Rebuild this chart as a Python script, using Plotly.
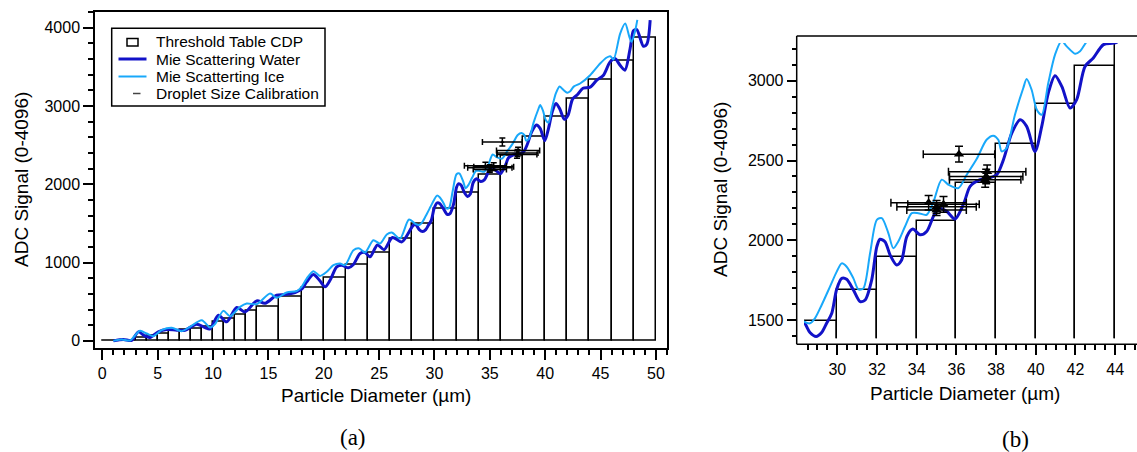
import numpy as np
import plotly.graph_objects as go

# ---------------- data ----------------
# CDP threshold table: bin edges (µm) and ADC threshold of each bin
bin_edges = [0, 3, 4, 5, 6, 7, 8, 9, 10, 11, 12, 13, 14, 16, 18, 20, 22, 24, 26, 28,
             30, 32, 34, 36, 38, 40, 42, 44, 46, 48, 50]
bin_adc = [5, 43, 60, 86, 124, 137, 158, 179, 239, 286, 328, 379, 435, 558, 682, 810,
           968, 1124, 1303, 1494, 1688, 1898, 2122, 2359, 2606, 2857, 3090, 3333, 3576, 3878]

# Mie scattering response, water
water_d = [1.0, 1.9, 2.65, 3.25, 3.86, 4.3, 5.06, 5.81, 6.72, 7.47, 8.52, 9.27, 9.73, 10.48,
           11.23, 12.14, 12.89, 13.95, 14.7, 15.75, 16.5, 17.41, 18.0, 18.46, 19.06, 19.61,
           20.12, 20.57, 21.17, 21.62, 22.23, 22.68, 23.28, 23.73, 24.18, 24.85, 25.45, 26.2,
           27.05, 28.1, 28.32, 28.62, 28.93, 29.21, 29.46, 29.72, 29.97, 30.22, 30.47, 30.81,
           31.15, 31.4, 31.73, 31.99, 32.15, 32.4, 32.66, 32.99, 33.24, 33.5, 33.8, 34.17,
           34.5, 34.84, 35.09, 35.51, 35.93, 36.27, 36.44, 36.69, 37.19, 37.61, 38.03, 38.37,
           38.79, 39.21, 39.54, 39.96, 40.3, 40.63, 40.97, 41.31, 41.73, 42.06, 42.48, 42.9,
           43.41, 44.06, 44.66, 45.26, 45.86, 46.3, 46.76, 47.2, 47.67, 47.97, 48.27, 48.87,
           49.18, 49.48]
water_adc = [0, 18, 5, 115, 60, 43, 115, 145, 136, 136, 213, 170, 153, 328,
             243, 426, 370, 511, 480, 584, 592, 618, 660, 754, 848, 775,
             690, 775, 945, 967, 933, 975, 1116, 1129, 1073, 1225, 1165, 1320,
             1264, 1478, 1483, 1421, 1396, 1421, 1479, 1542, 1694, 1761, 1755, 1688,
             1615, 1625, 1750, 1960, 2006, 1991, 1907, 1845, 1876, 2023, 2070, 2034,
             2055, 2150, 2202, 2181, 2133, 2202, 2254, 2338, 2380, 2390, 2411, 2505,
             2672, 2756, 2714, 2557, 2714, 2923, 3032, 2965, 2829, 2882, 3090, 3143,
             3227, 3240, 3329, 3393, 3563, 3606, 3520, 3457, 3734, 3960, 3975, 3763,
             3790, 4096]

# Mie scattering response, ice
ice_d = [1.0, 1.75, 2.5, 3.4, 4.0, 4.6, 5.36, 6.27, 7.17, 7.92, 8.98, 9.73, 10.18, 10.93,
         11.53, 12.44, 13.04, 13.95, 15.15, 15.75, 16.65, 17.56, 18.0, 18.46, 19.06, 19.66,
         20.27, 20.87, 21.47, 21.92, 22.68, 23.22, 23.73, 24.48, 25.08, 25.69, 26.14, 26.89,
         27.7, 28.32, 28.62, 28.87, 29.21, 29.63, 29.97, 30.22, 30.47, 30.81, 31.06, 31.31,
         31.65, 31.99, 32.24, 32.57, 32.82, 33.07, 33.41, 33.75, 34.08, 34.5, 34.84, 35.26,
         35.6, 36.1, 36.52, 37.02, 37.52, 37.86, 38.11, 38.28, 38.53, 38.95, 39.37, 39.54,
         39.79, 40.05, 40.3, 40.63, 40.97, 41.3, 41.56, 41.98, 42.23, 42.6, 43.15, 44.06,
         44.96, 45.56, 45.87, 46.17, 46.77, 47.22, 47.6, 47.8, 48.1, 48.32]
ice_adc = [0, 18, 5, 128, 94, 60, 136, 166, 124, 179, 264, 170, 213, 383,
           315, 434, 477, 469, 605, 550, 618, 635, 690, 796, 890, 830,
           882, 967, 988, 967, 1158, 1180, 1129, 1286, 1243, 1358, 1384, 1307,
           1550, 1490, 1479, 1510, 1594, 1709, 1803, 1855, 1834, 1761, 1692, 1698,
           1918, 2128, 2139, 2045, 1950, 1992, 2086, 2170, 2170, 2160, 2240, 2380,
           2348, 2327, 2411, 2509, 2630, 2656, 2630, 2557, 2578, 2787, 2955, 3011,
           2944, 2819, 2787, 2986, 3164, 3250, 3216, 3170, 3185, 3250, 3287, 3393,
           3542, 3619, 3636, 3593, 3925, 4053, 3883, 3819, 3946, 4100]

# Droplet size calibration points (diameter, ADC, errors)
cal_d = [34.6, 35.35, 35.0, 35.0, 36.13, 37.55, 37.5, 37.45]
cal_adc = [2235, 2225, 2210, 2190, 2540, 2430, 2400, 2380]
cal_d_err = [1.9, 1.8, 2.0, 1.5, 1.8, 1.95, 1.85, 1.8]
cal_adc_err = [45, 50, 40, 35, 50, 42, 45, 48]

legend_labels = ["Threshold Table CDP", "Mie Scattering Water",
                 "Mie Scatterting Ice", "Droplet Size Calibration"]

# ---------------- figure ----------------
W, H = 1137, 452
edges = np.array(bin_edges, dtype=float)
bar_x = (edges[:-1] + edges[1:]) / 2
bar_w = np.diff(edges)

WATER = "rgb(18,18,200)"
ICE = "rgb(24,168,250)"
FONT = "Liberation Sans, Arial, sans-serif"

fig = go.Figure()

for xa, ya in [("x", "y"), ("x2", "y2")]:
    fig.add_trace(go.Bar(x=bar_x, y=bin_adc, width=bar_w, name=legend_labels[0],
                         marker=dict(color="white", line=dict(color="black", width=1.5)),
                         xaxis=xa, yaxis=ya, showlegend=False))
    fig.add_trace(go.Scatter(x=water_d, y=water_adc, mode="lines", name=legend_labels[1],
                             line=dict(color=WATER, width=3, shape="spline", smoothing=0.8),
                             xaxis=xa, yaxis=ya, showlegend=False))
    fig.add_trace(go.Scatter(x=ice_d, y=ice_adc, mode="lines", name=legend_labels[2],
                             line=dict(color=ICE, width=2, shape="spline", smoothing=0.8),
                             xaxis=xa, yaxis=ya, showlegend=False))

fig.add_trace(go.Scatter(x=cal_d, y=cal_adc, mode="markers", name=legend_labels[3],
                         marker=dict(symbol="triangle-up", size=4, color="black"),
                         error_x=dict(type="data", array=cal_d_err, color="black", thickness=1.5, width=3),
                         error_y=dict(type="data", array=cal_adc_err, color="black", thickness=1.5, width=3),
                         xaxis="x", yaxis="y", showlegend=False))
fig.add_trace(go.Scatter(x=cal_d, y=cal_adc, mode="markers", name=legend_labels[3],
                         marker=dict(symbol="triangle-up", size=9, color="black"),
                         error_x=dict(type="data", array=cal_d_err, color="black", thickness=1.5, width=4),
                         error_y=dict(type="data", array=cal_adc_err, color="black", thickness=1.5, width=4),
                         xaxis="x2", yaxis="y2", showlegend=False))

def px(x):
    return x / W

def py(y):
    return (H - y) / H

tickfont = dict(family=FONT, size=16, color="black")
common = dict(ticks="outside", ticklen=10, tickwidth=1.5, tickcolor="black",
              tickfont=tickfont, showgrid=False, zeroline=False,
              linecolor="black", linewidth=1.5)

fig.update_layout(
    width=W, height=H, margin=dict(l=0, r=0, t=0, b=0),
    paper_bgcolor="white", plot_bgcolor="white",
    barmode="overlay", bargap=0, showlegend=False,
    font=dict(family=FONT, color="black"),
    xaxis=dict(domain=[px(95), px(667)], range=[-0.66, 51.0], anchor="y",
               dtick=5, tick0=0, showline=True, mirror=True,
               minor=dict(dtick=1, ticklen=5, tickwidth=1.5, tickcolor="black", ticks="outside"),
               **common),
    yaxis=dict(domain=[py(348.3), py(11.7)], range=[-95, 4204], anchor="x",
               dtick=1000, tick0=0, showline=True, mirror=True,
               minor=dict(dtick=200, ticklen=5, tickwidth=1.5, tickcolor="black", ticks="outside"),
               **common),
    xaxis2=dict(domain=[px(804), 1.0], range=[28.32, 45.1], anchor="free", position=py(344.3),
                dtick=2, tick0=0, showline=False,
                minor=dict(dtick=0.5, ticklen=5, tickwidth=1.5, tickcolor="black", ticks="outside"),
                **common),
    yaxis2=dict(domain=[py(338.3), py(43)], range=[1385, 3237], anchor="free", position=px(796.7),
                dtick=500, tick0=0, showline=False,
                minor=dict(dtick=100, ticklen=5, tickwidth=1.5, tickcolor="black", ticks="outside"),
                **common),
)

def pline(x0, y0, x1, y1, color="black", width=1.5):
    fig.add_shape(type="line", xref="paper", yref="paper",
                  x0=px(x0), x1=px(x1), y0=py(y0), y1=py(y1),
                  line=dict(color=color, width=width))

# frame of panel (b)
pline(796.7, 36, W, 36)
pline(796.7, 36, 796.7, 344.3)
pline(796.7, 344.3, W, 344.3)

# legend of panel (a), drawn by hand for Igor-like compact rows
fig.add_shape(type="rect", xref="paper", yref="paper",
              x0=px(111.7), x1=px(325), y0=py(106), y1=py(28.3),
              line=dict(color="black", width=1.5), fillcolor="white", layer="above")
rows = [41.7, 59.0, 76.5, 93.5]
fig.add_shape(type="rect", xref="paper", yref="paper",
              x0=px(127), x1=px(138), y0=py(46), y1=py(38.5),
              line=dict(color="black", width=1.5), fillcolor="white", layer="above")
pline(118.5, rows[1], 146.5, rows[1], WATER, 3)
pline(118.5, rows[2], 146.5, rows[2], ICE, 2)
pline(133, rows[3], 140.5, rows[3], "#444", 1.5)
for lab, r in zip(legend_labels, rows):
    fig.add_annotation(xref="paper", yref="paper", showarrow=False, text=lab,
                       x=px(154), y=py(r), xanchor="left", yanchor="middle",
                       font=dict(family=FONT, size=15.5, color="black"))

title_font = dict(family=FONT, size=19, color="black")
cap_font = dict(family="Liberation Serif, Times New Roman, serif", size=23, color="black")
annos = [
    dict(text="ADC Signal (0-4096)", x=px(22), y=py(180), textangle=-90, font=title_font),
    dict(text="Particle Diameter (µm)", x=px(376), y=py(395), font=title_font),
    dict(text="ADC Signal (0-4096)", x=px(720), y=py(190), textangle=-90, font=title_font),
    dict(text="Particle Diameter (µm)", x=px(965), y=py(393), font=title_font),
    dict(text="(a)", x=px(352.7), y=py(437), font=cap_font),
    dict(text="(b)", x=px(1015), y=py(439), font=cap_font),
]
for a in annos:
    fig.add_annotation(xref="paper", yref="paper", showarrow=False,
                       xanchor="center", yanchor="middle", **a)

fig.write_html("out.html")
